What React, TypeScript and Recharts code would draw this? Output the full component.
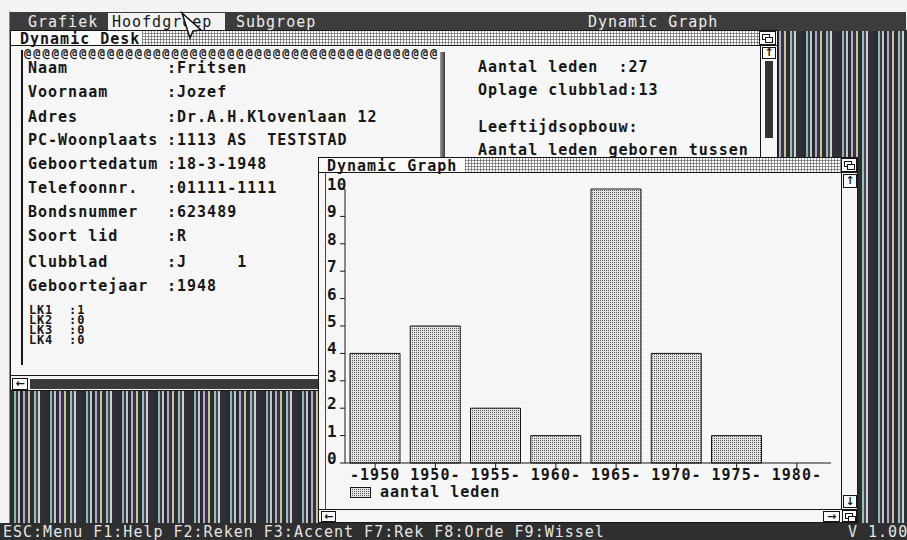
import React from 'react';
import { BarChart, Bar, XAxis, YAxis, Legend } from 'recharts';

// ---------- data ----------
const categories = ['-1950', '1950-', '1955-', '1960-', '1965-', '1970-', '1975-', '1980-'];
const aantalLeden = [4, 5, 2, 1, 10, 4, 1, 0];
const yTicks = [0, 1, 2, 3, 4, 5, 6, 7, 8, 9, 10];
const seriesName = 'aantal leden';

const menuItems = ['Grafiek', 'Hoofdgroep', 'Subgroep'];
const formLabels = ['Naam', 'Voornaam', 'Adres', 'PC-Woonplaats', 'Geboortedatum', 'Telefoonnr.', 'Bondsnummer', 'Soort lid', 'Clubblad', 'Geboortejaar'];
const formValues = [':Fritsen', ':Jozef', ':Dr.A.H.Klovenlaan 12', ':1113 AS  TESTSTAD', ':18-3-1948', ':01111-1111', ':623489', ':R', ':J     1', ':1948'];
const lkLines = ['LK1  :1', 'LK2  :0', 'LK3  :0', 'LK4  :0'];
const infoLines = ['Aantal leden  :27', 'Oplage clubblad:13', 'Leeftijdsopbouw:', 'Aantal leden geboren tussen'];
const statusText = 'ESC:Menu F1:Help F2:Reken F3:Accent F7:Rek F8:Orde F9:Wissel';
const versionText = 'V 1.00';

const chartData = categories.map((cat, i) => ({ cat, leden: aantalLeden[i] }));

// ---------- styles ----------
const FONT = "'DejaVu Sans Mono', 'Liberation Mono', monospace";
const INK = '#161616';
const PAPER = '#f6f6f6';

const hatch: React.CSSProperties = {
  backgroundColor: '#fbfbfb',
  backgroundImage:
    'linear-gradient(90deg, rgba(70,70,70,0.55) 1px, transparent 1px), linear-gradient(0deg, rgba(70,70,70,0.55) 1px, transparent 1px)',
  backgroundSize: '3px 3px',
};

const stripes: React.CSSProperties = {
  backgroundColor: '#2c2e34',
  backgroundImage:
    'repeating-linear-gradient(90deg, #2b2d33 0px, #2b2d33 4px, #8ab8b0 4px, #8ab8b0 6px, #3a3c44 6px, #3a3c44 8px, #c0c4d0 8px, #c0c4d0 10px, #2a2a2e 10px, #2a2a2e 13px, #b4a8d4 13px, #b4a8d4 15px, #34363c 15px, #34363c 18px, #c8c498 18px, #c8c498 20px, #2b2d33 20px, #2b2d33 24px, #98c0b8 24px, #98c0b8 26px, #444650 26px, #444650 28px, #d0d0d8 28px, #d0d0d8 30px, #2e3036 30px, #2e3036 36px)',
};

type BoxProps = { l: number; t: number; w: number; h: number; s?: React.CSSProperties; children?: React.ReactNode };
function Box({ l, t, w, h, s, children }: BoxProps) {
  return (
    <div style={{ position: 'absolute', left: l, top: t, width: w, height: h, boxSizing: 'border-box', ...s }}>
      {children}
    </div>
  );
}

type TxtProps = { l: number; cy: number; text: string; size?: number; bold?: boolean; color?: string; ls?: number; lh?: number };
function Txt({ l, cy, text, size = 15, bold = true, color = INK, ls = 1, lh = 18 }: TxtProps) {
  return (
    <div
      style={{
        position: 'absolute',
        left: l,
        top: cy - lh / 2,
        height: lh,
        lineHeight: lh + 'px',
        fontFamily: FONT,
        fontSize: size,
        fontWeight: bold ? 700 : 400,
        letterSpacing: ls,
        color,
        whiteSpace: 'pre',
      }}
    >
      {text}
    </div>
  );
}

function ArrowBox({ l, t, w, h, glyph }: { l: number; t: number; w: number; h: number; glyph: string }) {
  return (
    <Box l={l} t={t} w={w} h={h} s={{ border: '1px solid ' + INK, background: '#fbfbfb', display: 'flex', alignItems: 'center', justifyContent: 'center', fontFamily: "'DejaVu Sans', sans-serif", fontWeight: 700, fontSize: 11, lineHeight: '10px', color: INK }}>
      {glyph}
    </Box>
  );
}

function WinIcon({ l, t, w = 16, h = 14 }: { l: number; t: number; w?: number; h?: number }) {
  return (
    <Box l={l} t={t} w={w} h={h} s={{ border: '1px solid ' + INK, background: '#fbfbfb' }}>
      <Box l={2} t={2} w={8} h={6} s={{ border: '1.5px solid ' + INK }} />
      <Box l={5} t={5} w={8} h={6} s={{ border: '1.5px solid ' + INK, background: '#fbfbfb' }} />
    </Box>
  );
}

// ---------- chart pieces ----------
function YTick(props: any) {
  const { y, payload } = props;
  return (
    <text x={7} y={y + 1} fill={INK} fontFamily={FONT} fontSize={16} fontWeight={700} style={{ fontSize: 16, fontWeight: 700 }}>
      {payload.value}
    </text>
  );
}

function XTick(props: any) {
  const { x, y, payload } = props;
  return (
    <text x={x} y={y + 10} textAnchor="middle" fill={INK} fontFamily={FONT} fontSize={15} fontWeight={700} letterSpacing={1}>
      {payload.value}
    </text>
  );
}

function LegendContent(props: any) {
  const item = props.payload && props.payload[0];
  return (
    <div style={{ position: 'relative', height: 20, width: '100%' }}>
      <svg style={{ position: 'absolute', left: 30, top: 5 }} width={21} height={11}>
        <rect x={0.5} y={0.5} width={20} height={10} fill="url(#stipple)" stroke={INK} />
      </svg>
      <span
        style={{
          position: 'absolute',
          left: 60,
          top: 4,
          height: 12,
          lineHeight: '12px',
          fontFamily: FONT,
          fontSize: 15,
          fontWeight: 700,
          letterSpacing: 1,
          color: INK,
          whiteSpace: 'pre',
        }}
      >
        {item ? item.value : seriesName}
      </span>
    </div>
  );
}

function GraphChart() {
  return (
    <BarChart width={520} height={334} data={chartData} margin={{ top: 15, right: 9, bottom: 6, left: 0 }}>
      <XAxis
        dataKey="cat"
        height={19}
        tickSize={5}
        tickMargin={2}
        interval={0}
        padding={{ left: 0, right: 4 }}
        axisLine={{ stroke: INK }}
        tickLine={{ stroke: INK }}
        tick={<XTick />}
      />
      <YAxis
        domain={[0, 10]}
        ticks={yTicks}
        interval={0}
        width={25}
        tickSize={5}
        axisLine={{ stroke: INK }}
        tickLine={{ stroke: INK }}
        tick={<YTick />}
      />
      <Legend verticalAlign="bottom" align="left" height={20} content={<LegendContent />} />
      <Bar dataKey="leden" name={seriesName} fill="url(#stipple)" stroke={INK} strokeWidth={1} barSize={50} isAnimationActive={false} />
    </BarChart>
  );
}

// ---------- app ----------
export default function App() {
  const formRowsY = [68, 92, 117, 140, 164, 188, 212, 236, 262, 286];
  const infoY = [67, 90, 127, 150];
  return (
    <div style={{ position: 'fixed', left: 0, top: 0, width: 907, height: 540, overflow: 'hidden', background: '#f3f3f3' }}>
      <svg width={0} height={0} style={{ position: 'absolute' }}>
        <defs>
          <pattern id="stipple" width={2} height={2} patternUnits="userSpaceOnUse">
            <rect width={2} height={2} fill="#e4e4e4" />
            <rect width={1} height={1} fill="#5a5a5a" />
          </pattern>
        </defs>
      </svg>

      {/* desktop stripes */}
      <Box l={10} t={30} w={897} h={494} s={stripes} />
      <Box l={9} t={11} w={1} h={513} s={{ background: '#8a8a8a' }} />

      {/* menu bar */}
      <Box l={10} t={12} w={896} h={19} s={{ background: '#3c3c3c' }} />
      <Box l={108} t={13} w={117} h={17} s={{ background: '#f2f2f2' }} />
      <Txt l={28} cy={21.5} text={menuItems[0]} bold={false} color="#ececec" />
      <Txt l={112} cy={21.5} text={menuItems[1]} bold={false} color={INK} />
      <Txt l={236} cy={21.5} text={menuItems[2]} bold={false} color="#ececec" />
      <Txt l={588} cy={21.5} text="Dynamic Graph" bold={false} color="#ececec" />

      {/* Dynamic Desk window */}
      <Box l={10} t={30} w={768} h={361} s={{ background: PAPER, border: '1px solid ' + INK }} />
      <Box l={11} t={31} w={131} h={14} s={{ background: '#fbfbfb' }} />
      <Txt l={20} cy={38.5} text="Dynamic Desk" />
      <Box l={142} t={31} w={617} h={14} s={hatch} />
      <WinIcon l={759} t={31} w={17} h={14} />
      <Box l={11} t={45} w={766} h={1} s={{ background: INK }} />

      {/* form frame */}
      <Box l={21} t={50} w={2} h={315} s={{ background: INK }} />
      <Txt l={24} cy={53} text={'@'.repeat(45)} size={12} ls={2} />
      <Box l={440} t={52} w={5} h={326} s={{ background: 'linear-gradient(90deg, #9a9a9a, #3a3a3a)' }} />
      {formLabels.map((lab, i) => (
        <Txt key={'l' + i} l={28} cy={formRowsY[i]} text={lab} />
      ))}
      {formValues.map((v, i) => (
        <Txt key={'v' + i} l={167} cy={formRowsY[i]} text={v} />
      ))}
      <div
        style={{
          position: 'absolute',
          left: 29,
          top: 305,
          lineHeight: '10px',
          fontFamily: FONT,
          fontSize: 12,
          fontWeight: 700,
          letterSpacing: 0.8,
          color: INK,
          whiteSpace: 'pre',
        }}
      >
        {lkLines.join('\n')}
      </div>

      {/* info text */}
      {infoLines.map((t, i) => (
        <Txt key={'i' + i} l={478} cy={infoY[i]} text={t} />
      ))}

      {/* desk vertical scrollbar */}
      <Box l={760} t={46} w={17} h={329} s={{ borderLeft: '1px solid ' + INK, background: PAPER }} />
      <ArrowBox l={762} t={47} w={14} h={12} glyph="↑" />
      <Box l={765} t={61} w={8} h={77} s={{ background: '#333' }} />

      {/* desk bottom */}
      <Box l={11} t={375} w={766} h={1} s={{ background: INK }} />
      <ArrowBox l={12} t={378} w={16} h={12} glyph="←" />
      <Box l={30} t={379} w={300} h={10} s={{ background: '#3a3a3a' }} />

      {/* Dynamic Graph window */}
      <Box l={318} t={157} w={540} h={366} s={{ background: PAPER, border: '1px solid ' + INK }} />
      <Box l={319} t={158} w={146} h={14} s={{ background: '#fbfbfb' }} />
      <Txt l={327} cy={165.5} text="Dynamic Graph" />
      <Box l={465} t={158} w={376} h={14} s={hatch} />
      <WinIcon l={841} t={158} w={16} h={14} />
      <Box l={319} t={172} w={538} h={1} s={{ background: INK }} />
      <Box l={325} t={173} w={1} h={336} s={{ background: '#444' }} />

      {/* graph right scrollbar */}
      <Box l={841} t={173} w={16} h={337} s={{ borderLeft: '1px solid ' + INK, background: PAPER }} />
      <ArrowBox l={843} t={174} w={14} h={14} glyph="↑" />
      <ArrowBox l={843} t={495} w={14} h={13} glyph="↓" />

      {/* graph bottom scrollbar */}
      <Box l={319} t={509} w={538} h={1} s={{ background: INK }} />
      <ArrowBox l={321} t={511} w={15} h={11} glyph="←" />
      <ArrowBox l={823} t={511} w={17} h={11} glyph="→" />
      <WinIcon l={842} t={510} w={15} h={12} />

      {/* chart */}
      <div style={{ position: 'absolute', left: 320, top: 174, width: 520, height: 334 }}>
        <GraphChart />
      </div>

      {/* mouse cursor */}
      <svg style={{ position: 'absolute', left: 180, top: 11 }} width={26} height={30}>
        <polygon points="2,2 21,19 13,20 10,27" fill="#fafafa" stroke="#111" strokeWidth={1.5} />
      </svg>

      {/* status bar */}
      <Box l={0} t={523} w={907} h={17} s={{ background: '#2f2f2f' }} />
      <Txt l={3} cy={531.5} text={statusText} bold={false} color="#e4e4e4" />
      <Txt l={848} cy={531.5} text={versionText} bold={false} color="#e4e4e4" />
    </div>
  );
}
